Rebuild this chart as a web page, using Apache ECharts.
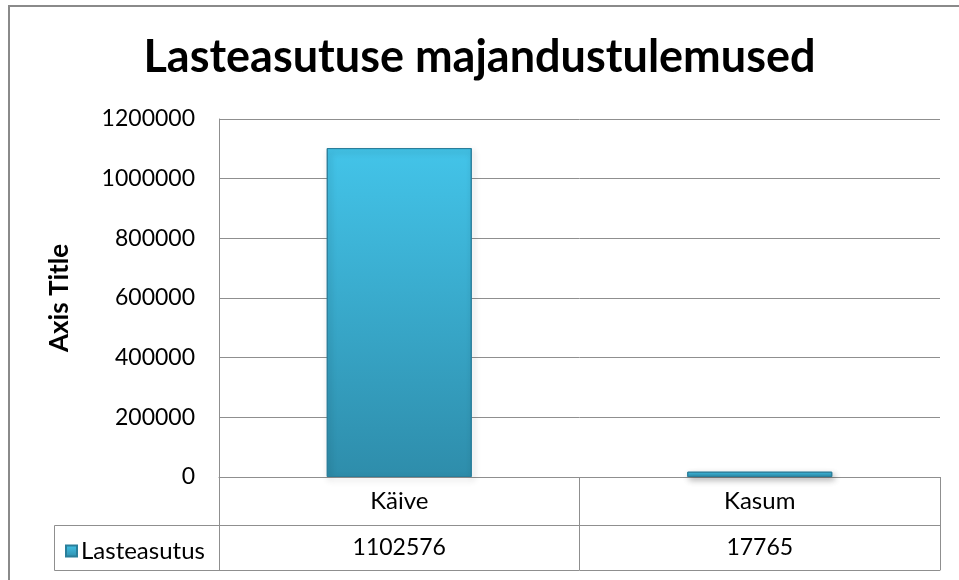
<!DOCTYPE html>
<html>
<head>
<meta charset="utf-8">
<script src="https://cdn.jsdelivr.net/npm/echarts@6/dist/echarts.min.js"></script>
<style>
  html, body { margin: 0; padding: 0; background: #fff; }
  #chart { width: 959px; height: 580px; }
</style>
</head>
<body>
<div id="chart"></div>
<script>
// chart data
var categories = ['Käive', 'Kasum'];
var seriesName = 'Lasteasutus';
var values = [1102576, 17765];
var yTicks = { min: 0, max: 1200000, interval: 200000 };

var font = 'Lato, "Open Sans", sans-serif';
var lineGray = '#8f8f8f';

var chart = echarts.init(document.getElementById('chart'));
chart.setOption({
    backgroundColor: '#fff',
    title: {
        text: 'Lasteasutuse majandustulemused',
        left: 'center',
        top: 30,
        textStyle: { fontFamily: font, fontSize: 45, fontWeight: 'bold', color: '#000' }
    },
    legend: {
        data: [seriesName],
        left: 60,
        top: 534,
        icon: 'rect',
        itemWidth: 11,
        itemHeight: 11,
        itemGap: 4,
        textStyle: { fontFamily: font, fontSize: 24, color: '#000', padding: [0, 0, 0, -1] }
    },
    grid: { left: 219, right: 19, top: 119, bottom: 103 },
    xAxis: [
        {
            type: 'category',
            data: categories,
            axisLine: { lineStyle: { color: lineGray } },
            axisTick: { show: true, length: 93, lineStyle: { color: lineGray } },
            axisLabel: { fontFamily: font, fontSize: 24, color: '#000', margin: 12 }
        },
        {
            type: 'category',
            data: categories,
            position: 'bottom',
            offset: 48,
            axisLine: { lineStyle: { color: lineGray } },
            axisTick: { show: false },
            axisLabel: {
                fontFamily: font, fontSize: 23, color: '#000', margin: 11,
                formatter: function (v, i) { return String(values[i]); }
            }
        },
        {
            type: 'category',
            data: categories,
            position: 'bottom',
            offset: 93,
            axisLine: { lineStyle: { color: lineGray } },
            axisTick: { show: false },
            axisLabel: { show: false }
        }
    ],
    yAxis: {
        type: 'value',
        min: yTicks.min,
        max: yTicks.max,
        interval: yTicks.interval,
        name: 'Axis Title',
        nameLocation: 'middle',
        nameRotate: 90,
        nameGap: 146,
        nameTextStyle: { fontFamily: font, fontSize: 26, fontWeight: 'bold', color: '#000' },
        axisLine: { show: true, lineStyle: { color: lineGray } },
        axisTick: { show: false },
        axisLabel: {
            fontFamily: font, fontSize: 23, color: '#000', margin: 24,
            formatter: function (v) { return String(v); }
        },
        splitLine: { lineStyle: { color: lineGray } }
    },
    series: [
        {
            name: seriesName,
            type: 'bar',
            data: values,
            barWidth: 145,
            itemStyle: {
                color: new echarts.graphic.LinearGradient(0, 0, 0, 1, [
                    { offset: 0, color: '#43c4e9' },
                    { offset: 1, color: '#2e8dab' }
                ]),
                borderColor: '#2a7e9a',
                borderWidth: 1,
                shadowBlur: 6,
                shadowOffsetX: 2,
                shadowOffsetY: 3,
                shadowColor: 'rgba(0,0,0,0.3)'
            }
        }
    ],
    graphic: [
        {
            type: 'rect',
            shape: { x: 9, y: 6, width: 1000, height: 620 },
            style: { fill: 'none', stroke: '#8a8a8a', lineWidth: 2 },
            silent: true
        },
        {
            type: 'polyline',
            shape: { points: [[219, 525.5], [54.5, 525.5], [54.5, 570.5], [219, 570.5]] },
            style: { fill: 'none', stroke: lineGray, lineWidth: 1 },
            silent: true
        }
    ]
});
</script>
</body>
</html>
